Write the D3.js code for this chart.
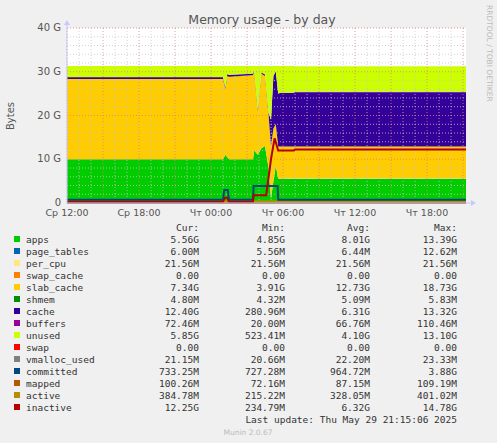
<!DOCTYPE html>
<html>
<head>
<meta charset="utf-8">
<script src="https://cdn.jsdelivr.net/npm/d3@7"></script>
<style>
  body { margin: 0; background: #f0f0f0; }
  text { font-family: "DejaVu Sans", sans-serif; }
  .mono { font-family: "DejaVu Sans Mono", monospace; font-size: 9.5px; fill: #333; }
</style>
</head>
<body>
<svg id="chart" width="497" height="443"></svg>
<script>
// hours since Wed 12:00 (one step per sample)
const hours  = [0, 13.0, 13.2, 13.35, 13.5, 15.5, 15.6, 15.9, 16.2, 16.5, 16.8, 17.0, 17.2, 17.4, 17.6, 17.75, 18.9, 19.0, 33.25];
// stacked series, in GB
const apps   = [10.0, 10.0, 11.0, 10.5, 10.0, 10.0, 12.0, 11.0, 12.5, 13.0, 8.0, 1.0, 5.0, 8.5, 5.6, 5.56, 5.56, 5.56, 5.56];
const pageTables = [0.006, 0.006, 0.006, 0.006, 0.006, 0.006, 0.006, 0.006, 0.006, 0.006, 0.006, 0.006, 0.006, 0.006, 0.006, 0.006, 0.006, 0.006, 0.006];
const perCpu = [0.02, 0.02, 0.02, 0.02, 0.02, 0.02, 0.02, 0.02, 0.02, 0.02, 0.02, 0.02, 0.02, 0.02, 0.02, 0.02, 0.02, 0.02, 0.02];
const swapCache = [0, 0, 0, 0, 0, 0, 0, 0, 0, 0, 0, 0, 0, 0, 0, 0, 0, 0, 0];
const slab   = [18.3, 18.3, 15.0, 18.5, 18.8, 19.2, 18.0, 10.0, 17.0, 16.0, 12.0, 12.0, 12.0, 9.5, 7.3, 7.34, 7.34, 7.34, 7.34];
const shmem  = [0.005, 0.005, 0.005, 0.005, 0.005, 0.005, 0.005, 0.005, 0.005, 0.005, 0.005, 0.005, 0.005, 0.005, 0.005, 0.005, 0.005, 0.005, 0.005];
const cache  = [0.4, 0.4, 0.3, 0.4, 0.4, 0.3, 0.3, 0.3, 0.3, 0.3, 0.5, 6.0, 12.0, 12.0, 12.0, 12.2, 12.2, 12.4, 12.4];
const buffers = [0.07, 0.07, 0.07, 0.07, 0.07, 0.07, 0.07, 0.07, 0.07, 0.07, 0.07, 0.07, 0.07, 0.07, 0.07, 0.07, 0.07, 0.07, 0.07];
const unused = [2.5, 2.5, 4.9, 1.8, 2.0, 1.7, 0.9, 9.9, 1.4, 1.9, 10.7, 12.2, 2.2, 1.2, 6.3, 6.1, 6.1, 5.85, 5.85];
const swap   = [0, 0, 0, 0, 0, 0, 0, 0, 0, 0, 0, 0, 0, 0, 0, 0, 0, 0, 0];

// line series
const committedT = [0, 13.0, 13.1, 13.4, 13.5, 15.5, 15.55, 17.55, 17.6, 33.25];
const committed  = [0.73, 0.73, 3.0, 3.0, 0.73, 0.73, 3.88, 3.88, 0.73, 0.73];
const inactiveT = [0, 13.0, 13.15, 13.35, 13.5, 15.5, 15.55, 16.6, 17.0, 17.3, 17.6, 18.9, 19.0, 33.25];
const inactive  = [0.3, 0.3, 1.2, 1.2, 0.3, 0.3, 1.8, 1.8, 10.0, 14.8, 12.0, 12.0, 12.25, 12.25];
const flatT = [0, 33.25];
const active = [0.35, 0.38];
const mapped = [0.09, 0.1];
const vmalloc = [0.02, 0.02];

const xTickLabels = ['Ср 12:00', 'Ср 18:00', 'Чт 00:00', 'Чт 06:00', 'Чт 12:00', 'Чт 18:00'];
const yTickLabels = ['0', '10 G', '20 G', '30 G', '40 G'];

const legendRows = [
  ['apps', '#00cc00', '5.56G', '4.85G', '8.01G', '13.39G'],
  ['page_tables', '#0066b3', '6.00M', '5.56M', '6.44M', '12.62M'],
  ['per_cpu', '#ffe680', '21.56M', '21.56M', '21.56M', '21.56M'],
  ['swap_cache', '#ff8000', '0.00', '0.00', '0.00', '0.00'],
  ['slab_cache', '#ffcc00', '7.34G', '3.91G', '12.73G', '18.73G'],
  ['shmem', '#008f00', '4.80M', '4.32M', '5.09M', '5.83M'],
  ['cache', '#330099', '12.40G', '280.96M', '6.31G', '13.32G'],
  ['buffers', '#990099', '72.46M', '20.00M', '66.76M', '110.46M'],
  ['unused', '#ccff00', '5.85G', '523.41M', '4.10G', '13.10G'],
  ['swap', '#ff0000', '0.00', '0.00', '0.00', '0.00'],
  ['vmalloc_used', '#808080', '21.15M', '20.66M', '22.20M', '23.33M'],
  ['committed', '#00487d', '733.25M', '727.28M', '964.72M', '3.88G'],
  ['mapped', '#b35a00', '100.26M', '72.16M', '87.15M', '109.19M'],
  ['active', '#b38f00', '384.78M', '215.22M', '328.05M', '401.02M'],
  ['inactive', '#b30000', '12.25G', '234.79M', '6.32G', '14.78G']
];

const stackSeries = [apps, pageTables, perCpu, swapCache, slab, shmem, cache, buffers, unused, swap];
const stackKeys = ['apps', 'page_tables', 'per_cpu', 'swap_cache', 'slab_cache', 'shmem', 'cache', 'buffers', 'unused', 'swap'];
const colorOf = Object.fromEntries(legendRows.map(r => [r[0], r[1]]));

const svg = d3.select('#chart');
const plotLeft = 67, plotRight = 466, plotTop = 28, plotBottom = 203;

const x = d3.scaleLinear().domain([0, 33.25]).range([plotLeft, plotRight]);
const y = d3.scaleLinear().domain([0, 40]).range([plotBottom, plotTop]);

// white plot background
svg.append('rect').attr('x', plotLeft).attr('y', plotTop).attr('width', plotRight - plotLeft)
  .attr('height', plotBottom - plotTop).attr('fill', '#fff');

// stacked areas
const table = hours.map((h, i) => {
  const row = { h };
  stackKeys.forEach((k, j) => { row[k] = stackSeries[j][i]; });
  return row;
});
const stacked = d3.stack().keys(stackKeys)(table);
const area = d3.area().x(d => x(d.data.h)).y0(d => y(d[0])).y1(d => y(d[1]));
svg.append('g').selectAll('path').data(stacked).enter().append('path')
  .attr('d', area).attr('fill', d => colorOf[d.key]);

// grid
const grid = svg.append('g');
d3.range(0, 34).forEach(h => {
  grid.append('line').attr('x1', x(h)).attr('x2', x(h)).attr('y1', plotTop).attr('y2', plotBottom)
    .attr('stroke', h % 3 === 0 ? '#e08080' : '#c8c8c8').attr('stroke-dasharray', '1,2').attr('stroke-width', 0.8);
});
d3.range(0, 41, 2).forEach(v => {
  grid.append('line').attr('x1', plotLeft).attr('x2', plotRight).attr('y1', y(v)).attr('y2', y(v))
    .attr('stroke', v % 10 === 0 ? '#e08080' : '#c8c8c8').attr('stroke-dasharray', '1,2').attr('stroke-width', 0.8);
});

// lines
const line = (ts) => d3.line().x((d, i) => x(ts[i])).y(d => y(d));
const lines = [[flatT, vmalloc, 'vmalloc_used'], [flatT, mapped, 'mapped'], [flatT, active, 'active'],
  [committedT, committed, 'committed'], [inactiveT, inactive, 'inactive']];
lines.forEach(([ts, vs, k]) => {
  svg.append('path').attr('d', line(ts)(vs)).attr('fill', 'none')
    .attr('stroke', colorOf[k]).attr('stroke-width', 2);
});

// axes
svg.append('line').attr('x1', plotLeft).attr('x2', plotRight + 8).attr('y1', plotBottom).attr('y2', plotBottom).attr('stroke', '#c8c8ff');
svg.append('line').attr('x1', plotLeft).attr('x2', plotLeft).attr('y1', plotBottom).attr('y2', plotTop - 6).attr('stroke', '#c8c8ff');
svg.append('path').attr('d', `M${plotRight + 5},${plotBottom - 3}L${plotRight + 10},${plotBottom}L${plotRight + 5},${plotBottom + 3}Z`).attr('fill', '#c8c8ff');
svg.append('path').attr('d', `M${plotLeft - 3},${plotTop - 3}L${plotLeft},${plotTop - 8}L${plotLeft + 3},${plotTop - 3}Z`).attr('fill', '#c8c8ff');

yTickLabels.forEach((t, i) => {
  svg.append('text').attr('x', plotLeft - 6).attr('y', y(i * 10) + 3).attr('text-anchor', 'end')
    .attr('font-size', 10).attr('fill', '#555').text(t);
});
xTickLabels.forEach((t, i) => {
  svg.append('text').attr('x', x(i * 6)).attr('y', plotBottom + 13).attr('text-anchor', 'middle')
    .attr('font-size', 9.5).attr('fill', '#555').text(t);
});

svg.append('text').attr('x', 262).attr('y', 24).attr('text-anchor', 'middle')
  .attr('font-size', 12.5).attr('fill', '#555').text('Memory usage - by day');
svg.append('text').attr('transform', 'translate(14,116) rotate(-90)').attr('text-anchor', 'middle')
  .attr('font-size', 10).attr('fill', '#555').text('Bytes');
svg.append('text').attr('transform', 'translate(487,5) rotate(90)').attr('font-size', 7.5)
  .attr('fill', '#bbb').text('RRDTOOL / TOBI OETIKER');

// legend
const colX = [199, 285, 370, 457];
['Cur:', 'Min:', 'Avg:', 'Max:'].forEach((h, i) => {
  svg.append('text').attr('class', 'mono').attr('x', colX[i]).attr('y', 231).attr('text-anchor', 'end').text(h);
});
legendRows.forEach((r, i) => {
  const yy = 243 + i * 12;
  svg.append('rect').attr('x', 14).attr('y', yy - 7).attr('width', 6).attr('height', 6).attr('fill', r[1]);
  svg.append('text').attr('class', 'mono').attr('x', 26).attr('y', yy).text(r[0]);
  r.slice(2).forEach((v, j) => {
    svg.append('text').attr('class', 'mono').attr('x', colX[j]).attr('y', yy).attr('text-anchor', 'end').text(v);
  });
});
svg.append('text').attr('class', 'mono').attr('x', 457).attr('y', 423).attr('text-anchor', 'end')
  .text('Last update: Thu May 29 21:15:06 2025');
svg.append('text').attr('x', 248).attr('y', 435).attr('text-anchor', 'middle')
  .attr('font-size', 7.5).attr('fill', '#bbb').text('Munin 2.0.67');
</script>
</body>
</html>
